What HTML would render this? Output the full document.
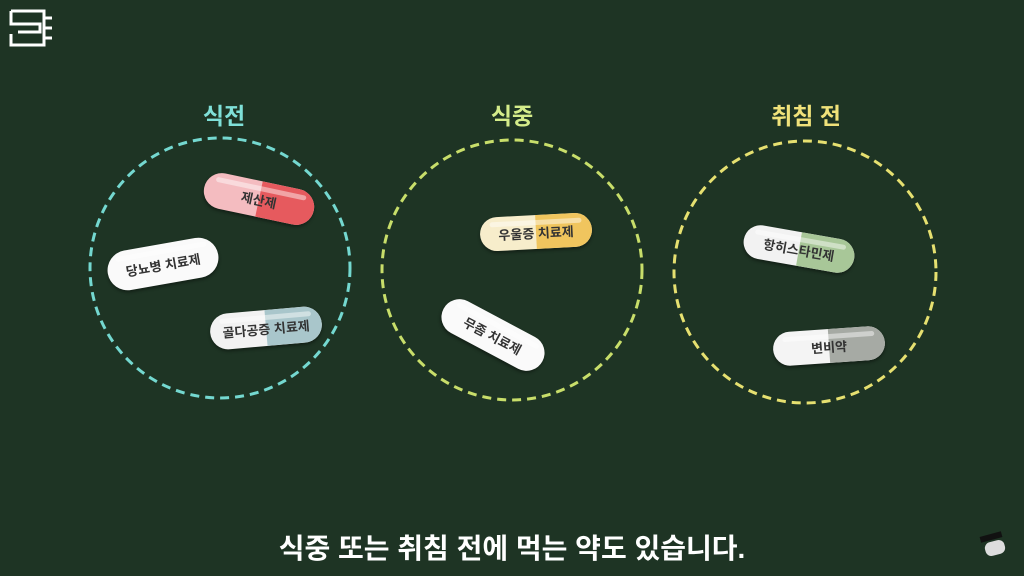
<!DOCTYPE html>
<html><head><meta charset="utf-8"><style>
body{margin:0;width:1024px;height:576px;background:#1e3424;overflow:hidden;position:relative;font-family:"Liberation Sans","Noto Sans CJK KR",sans-serif}
.t{position:absolute;font-weight:bold;font-size:23px;transform:translateX(-50%);top:97px}
.p{position:absolute;height:36px;width:112px;border-radius:18px;overflow:hidden;box-shadow:0 2px 3px rgba(0,0,0,.4);font-size:13px;font-weight:bold;color:#333;display:flex;align-items:center;justify-content:center;white-space:nowrap}
.p span{position:relative;z-index:2}
.r{position:absolute;right:0;top:0;bottom:0;width:50%}
.p:after{content:"";position:absolute;left:10px;right:10px;top:5px;height:5px;border-radius:3px;background:rgba(255,255,255,.45)}
</style></head><body>
<svg style="position:absolute;left:8px;top:8px" width="46" height="40" viewBox="0 0 46 40" fill="none" stroke="#fff" stroke-width="3"><path d="M3 3H36V37H3V26M3 3V16H32V24H10"/><path d="M36 10h8M36 20h8M36 30h8"/></svg>
<div class="t" style="left:224px;color:#7fe0d8">식전</div>
<div class="t" style="left:512px;color:#d4ec8a">식중</div>
<div class="t" style="left:806px;color:#f0e27a">취침 전</div>
<svg style="position:absolute;left:0;top:0" width="1024" height="576" fill="none" stroke-width="3" stroke-dasharray="9 6">
<circle cx="220" cy="268" r="130" stroke="#74d8d0"/>
<circle cx="512" cy="270" r="130" stroke="#c8de6a"/>
<circle cx="805" cy="272" r="131" stroke="#e6e070"/>
</svg>
<div class="p" style="left:203px;top:181px;background:#f4bcc0;transform:rotate(12deg)"><div class="r" style="background:#e65a5e"></div><span>제산제</span></div>
<div class="p" style="left:107px;top:244px;height:40px;border-radius:20px;background:#fafafa;transform:rotate(-10deg)"><span>당뇨병 치료제</span></div>
<div class="p" style="left:210px;top:310px;background:#f2f2f2;transform:rotate(-5deg)"><div class="r" style="background:#a9c6cb"></div><span>골다공증 치료제</span></div>
<div class="p" style="left:480px;top:215px;height:34px;background:#f7edcb;transform:rotate(-3deg)"><div class="r" style="background:#f0c55e"></div><span>우울증 치료제</span></div>
<div class="p" style="left:437px;top:317px;background:#fafafa;transform:rotate(28deg)"><span>무좀 치료제</span></div>
<div class="p" style="left:743px;top:232px;height:34px;background:#f2f2f2;transform:rotate(10deg)"><div class="r" style="background:#a8c798"></div><span>항히스타민제</span></div>
<div class="p" style="left:773px;top:329px;height:34px;background:#f4f4f4;transform:rotate(-4deg)"><div class="r" style="background:#a6aaa4"></div><span>변비약</span></div>
<div style="position:absolute;left:0;width:1024px;top:527px;text-align:center;color:#fff;font-size:28px;font-weight:bold">식중 또는 취침 전에 먹는 약도 있습니다.</div>
<div style="position:absolute;left:985px;top:541px;width:20px;height:14px;background:#ddd;border-radius:6px;transform:rotate(-15deg)"></div>
<div style="position:absolute;left:980px;top:534px;width:22px;height:6px;background:#111;transform:rotate(-15deg)"></div>
</body></html>
